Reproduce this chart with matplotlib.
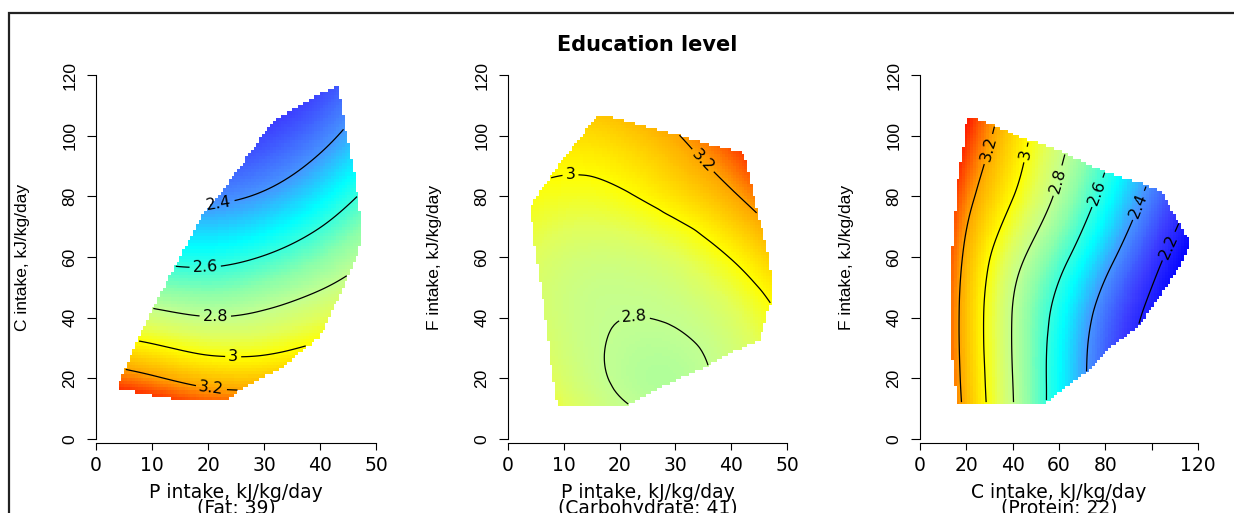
import numpy as np
import matplotlib
matplotlib.use("Agg")
import matplotlib.pyplot as plt
import matplotlib.tri as mtri
from matplotlib.colors import LinearSegmentedColormap, Normalize
from matplotlib.path import Path
from matplotlib.patches import Rectangle

# ---------------- data ----------------
title = "Education level"

# Panel 1: P (x) vs C (y), fat fixed at 39
p1_gx = [0, 10, 20, 30, 40, 50]
p1_gy = [0, 20, 40, 60, 80, 100, 120]
p1_z = [
    [3.65, 3.60, 3.55, 3.55, 3.50, 3.45],
    [3.30, 3.22, 3.14, 3.13, 3.17, 3.20],
    [2.90, 2.85, 2.805, 2.83, 2.90, 2.98],
    [2.63, 2.58, 2.565, 2.605, 2.69, 2.81],
    [2.42, 2.38, 2.375, 2.415, 2.51, 2.65],
    [2.26, 2.22, 2.22, 2.27, 2.36, 2.50],
    [2.14, 2.10, 2.10, 2.15, 2.24, 2.38],
]
p1_hull_x = [43.3, 44.1, 46.2, 47.6, 47.6, 45.4, 40.0, 33.4, 25.7, 23.2, 18.0,
             12.3, 8.4, 3.8, 5.8, 9.1, 14.4, 19.2, 24.5, 31.7, 38.2]
p1_hull_y = [117.0, 107.5, 87.0, 69.6, 65.6, 54.6, 33.8, 23.8, 16.2, 12.3, 12.3,
             13.6, 15.0, 16.7, 25.5, 39.2, 58.0, 74.4, 86.5, 105.0, 111.8]
p1_levels = [2.4, 2.6, 2.8, 3.0, 3.2]
p1_label_pos = [(22.0, 77.5), (19.5, 57.0), (21.3, 40.3), (24.5, 27.5), (20.6, 16.7)]

# Panel 2: P (x) vs F (y), carbohydrate fixed at 41
p2_gx = [0, 10, 20, 30, 40, 50]
p2_gy = [0, 20, 40, 60, 80, 100, 120]
p2_z = [
    [3.169, 2.987, 2.871, 2.819, 2.845, 2.910],
    [3.019, 2.871, 2.788, 2.770, 2.830, 2.928],
    [2.943, 2.838, 2.801, 2.809, 2.880, 3.020],
    [2.940, 2.862, 2.848, 2.895, 3.006, 3.150],
    [3.011, 2.963, 2.981, 3.063, 3.180, 3.345],
    [3.090, 3.070, 3.100, 3.190, 3.330, 3.500],
    [3.220, 3.220, 3.270, 3.380, 3.520, 3.700],
]
p2_hull_x = [3.8, 5.1, 9.3, 14.7, 16.5, 18.6, 23.7, 30.8, 37.7, 42.2, 43.1, 44.6,
             46.8, 47.5, 46.6, 45.2, 39.8, 35.0, 27.8, 21.9, 21.3, 9.3, 8.7, 7.8,
             6.3, 4.8, 4.4]
p2_hull_y = [76.4, 79.9, 90.9, 103.5, 107.0, 106.0, 103.5, 100.2, 96.4, 94.0, 88.1,
             75.5, 60.1, 46.4, 42.5, 32.6, 28.3, 23.3, 17.2, 11.5, 10.4, 10.4, 12.9,
             23.8, 45.8, 62.9, 70.0]
p2_levels = [2.8, 3.0, 3.2]
p2_label_pos = [(11.2, 85.4), (35.6, 93.0), (22.6, 41.2)]

# Panel 3: C (x) vs F (y), protein fixed at 22
p3_gx = [0, 20, 40, 60, 80, 100, 120]
p3_gy = [0, 20, 40, 60, 80, 100, 120]
p3_z = [
    [3.55, 3.18, 2.81, 2.53, 2.29, 2.09, 1.91],
    [3.52, 3.15, 2.80, 2.535, 2.31, 2.11, 1.93],
    [3.52, 3.14, 2.795, 2.555, 2.34, 2.16, 1.98],
    [3.55, 3.17, 2.865, 2.645, 2.445, 2.25, 2.06],
    [3.60, 3.25, 3.005, 2.77, 2.56, 2.36, 2.17],
    [3.68, 3.35, 3.09, 2.85, 2.65, 2.45, 2.26],
    [3.78, 3.44, 3.19, 2.95, 2.74, 2.54, 2.34],
]
p3_hull_x = [20.2, 24.5, 33.1, 44.6, 56.1, 71.9, 83.4, 96.4, 105.0, 109.3, 113.6,
             116.8, 114.4, 106.5, 94.9, 82.0, 70.5, 57.5, 53.2, 15.8, 15.1, 12.9,
             12.9, 14.4, 16.5, 18.7]
p3_hull_y = [106.3, 105.4, 103.0, 99.1, 96.4, 90.9, 87.0, 84.3, 81.0, 74.4, 68.9,
             65.0, 60.1, 50.2, 37.6, 29.9, 21.1, 13.9, 11.2, 11.2, 19.5, 32.6,
             48.0, 67.8, 86.5, 96.4]
p3_levels = [2.2, 2.4, 2.6, 2.8, 3.0, 3.2]
p3_label_pos = [(30.9, 95.3), (46.7, 93.6), (61.2, 84.8), (77.7, 81.0),
                (95.7, 76.6), (107.9, 63.4)]

x_ticks = [[0, 10, 20, 30, 40, 50], [0, 10, 20, 30, 40, 50],
           [0, 20, 40, 60, 80, 100, 120]]
x_ticklabels = [["0", "10", "20", "30", "40", "50"],
                ["0", "10", "20", "30", "40", "50"],
                ["0", "20", "40", "60", "80", "", "120"]]
y_ticks = [0, 20, 40, 60, 80, 100, 120]
x_labels = ["P intake, kJ/kg/day", "P intake, kJ/kg/day", "C intake, kJ/kg/day"]
x_sublabels = ["(Fat: 39)", "(Carbohydrate: 41)", "(Protein: 22)"]
y_labels = ["C intake, kJ/kg/day", "F intake, kJ/kg/day", "F intake, kJ/kg/day"]
x_limits = [(0, 50), (0, 50), (0, 120)]

# colour scale
cmap_vals = [2.10, 2.25, 2.40, 2.53, 2.70, 2.80, 2.90, 3.00, 3.20, 3.40]
cmap_cols = ["#0000ff", "#3c3cff", "#4696ff", "#00ffff", "#8cffaa",
             "#c3ff91", "#e1ff5a", "#ffff00", "#ffa500", "#ff0000"]

# ---------------- drawing ----------------
plt.rcParams["font.family"] = "DejaVu Sans"
W, H = 1234, 513
fig = plt.figure(figsize=(W / 100, H / 100), dpi=100)

vmin, vmax = cmap_vals[0], cmap_vals[-1]
cmap = LinearSegmentedColormap.from_list(
    "edu", [((v - vmin) / (vmax - vmin), c) for v, c in zip(cmap_vals, cmap_cols)])
norm = Normalize(vmin=vmin, vmax=vmax)

ax_px = [(96, 376), (508, 787), (920, 1198)]
top_px, bot_px = 75, 439

panels = [
    (p1_gx, p1_gy, p1_z, p1_hull_x, p1_hull_y, p1_levels, p1_label_pos),
    (p2_gx, p2_gy, p2_z, p2_hull_x, p2_hull_y, p2_levels, p2_label_pos),
    (p3_gx, p3_gy, p3_z, p3_hull_x, p3_hull_y, p3_levels, p3_label_pos),
]


def grid_triangulation(gx, gy):
    X, Y = np.meshgrid(gx, gy)
    nx, ny = len(gx), len(gy)
    tris = []
    for j in range(ny - 1):
        for i in range(nx - 1):
            a = j * nx + i
            b = a + 1
            c = a + nx
            d = c + 1
            tris.append([a, b, d])
            tris.append([a, d, c])
    return mtri.Triangulation(X.ravel(), Y.ravel(), np.array(tris))


for k, (gx, gy, gz, hx, hy, levels, lpos) in enumerate(panels):
    l, r = ax_px[k]
    ax = fig.add_axes([l / W, (H - bot_px) / H, (r - l) / W, (bot_px - top_px) / H])
    ax.set_xlim(*x_limits[k])
    ax.set_ylim(0, 120)

    tri = grid_triangulation(gx, gy)
    interp = mtri.CubicTriInterpolator(tri, np.asarray(gz, float).ravel(), kind="min_E")
    xs = np.linspace(min(hx), max(hx), 90)
    ys = np.linspace(min(hy), max(hy), 100)
    XF, YF = np.meshgrid(xs, ys)
    ZF = interp(XF, YF)
    inside = Path(np.column_stack([hx, hy])).contains_points(
        np.column_stack([XF.ravel(), YF.ravel()])).reshape(XF.shape)
    ZM = np.ma.masked_where(~inside | np.ma.getmaskarray(ZF), np.ma.filled(ZF, np.nan))
    ax.pcolormesh(XF, YF, ZM, cmap=cmap, norm=norm, shading="nearest",
                  edgecolors="none")
    cs = ax.contour(XF, YF, ZM, levels=levels, colors="black", linewidths=0.9)
    ax.clabel(cs, fmt=lambda v: f"{v:g}", fontsize=11.5, inline=True,
              inline_spacing=3, manual=lpos)

    for s in ("top", "right"):
        ax.spines[s].set_visible(False)
    ax.spines["bottom"].set_position(("outward", 3))
    ax.spines["bottom"].set_bounds(x_ticks[k][0], x_ticks[k][-1])
    ax.spines["left"].set_bounds(0, 120)
    for s in ("bottom", "left"):
        ax.spines[s].set_linewidth(0.8)
    ax.set_xticks(x_ticks[k])
    ax.set_xticklabels(x_ticklabels[k])
    ax.set_yticks(y_ticks)
    ax.set_yticklabels([str(v) for v in y_ticks])
    ax.tick_params(axis="x", length=5, width=0.8, pad=4, labelsize=13.5)
    ax.tick_params(axis="y", length=6.5, width=0.8, pad=7, labelsize=12.5)
    for lab in ax.get_yticklabels():
        lab.set_rotation(90)
        lab.set_va("center")
        lab.set_family("Liberation Sans")
    ax.patch.set_visible(False)

    cx = (l + r) / 2 / W
    fig.text(cx, 1 - 500 / H, x_labels[k] + "\n" + x_sublabels[k], ha="center",
             va="center", fontsize=13.5, linespacing=0.8, multialignment="center")
    fig.text((l - 73) / W, 1 - 257 / H, y_labels[k], ha="center", va="center",
             rotation=90, fontsize=12.5, family="Liberation Sans")

fig.text(647 / W, 1 - 45 / H, title, ha="center", va="center", fontsize=15,
         fontweight="bold")

fig.patches.append(Rectangle((8.5 / W, -0.2), 1.2, 1.2 - 12.5 / H,
                             transform=fig.transFigure, fill=False,
                             edgecolor="#222222", linewidth=1.6))

fig.savefig("out.png", dpi=100)
